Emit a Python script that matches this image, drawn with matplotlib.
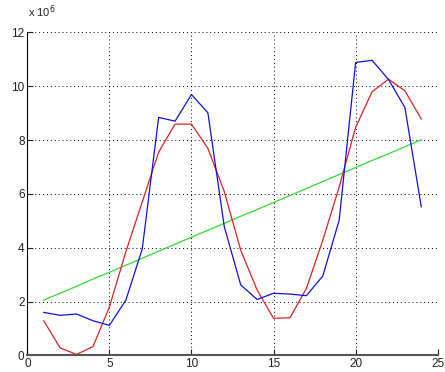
import matplotlib.pyplot as plt
import numpy as np

# values in units of 1e6, one per x = 1..24
x = np.arange(1, 25)
measured = [1.60, 1.49, 1.54, 1.29, 1.12, 2.05, 3.95, 8.84, 8.70, 9.69, 9.01, 4.78,
            2.62, 2.08, 2.31, 2.28, 2.22, 2.95, 5.03, 10.88, 10.96, 10.25, 9.21, 5.52]
fitted = [1.29, 0.28, 0.04, 0.33, 1.80, 3.85, 5.70, 7.55, 8.59, 8.59, 7.69, 6.08,
          3.91, 2.43, 1.38, 1.40, 2.49, 4.28, 6.26, 8.47, 9.79, 10.26, 9.83, 8.78]
trend = [2.06, 2.31, 2.57, 2.84, 3.09, 3.35, 3.61, 3.87, 4.13, 4.39, 4.65, 4.91,
         5.17, 5.42, 5.68, 5.94, 6.20, 6.46, 6.72, 6.98, 7.24, 7.49, 7.75, 8.01]

xticks = [0, 5, 10, 15, 20, 25]
yticks = [0, 2, 4, 6, 8, 10, 12]

plt.rcParams['font.family'] = ['Liberation Sans', 'DejaVu Sans']

fig = plt.figure(figsize=(4.45, 3.72), dpi=100)
ax = fig.add_axes([0.0614, 0.0444, 0.9222, 0.8688])

ax.plot(x, trend, color='#33dd33', lw=0.9)
ax.plot(x, fitted, color='#dd2222', lw=0.9)
ax.plot(x, measured, color='#1111dd', lw=0.9)

ax.set_xlim(0, 25)
ax.set_ylim(0, 12)
ax.set_xticks(xticks)
ax.set_yticks(yticks)
ax.tick_params(direction='in', length=4, labelsize=8.5, colors='#222222', pad=2)
ax.grid(True, linestyle=(0, (1, 3)), color='black', linewidth=0.7)

ax.spines['top'].set_visible(False)
ax.spines['right'].set_visible(False)
ax.spines['left'].set_color('black')
ax.spines['bottom'].set_color('#555555')
ax.spines['bottom'].set_linewidth(1.5)

fig.text(0.063, 0.955, r'x 10$^{6}$', fontsize=8, color='#222222')

plt.savefig('out.png', dpi=100)
